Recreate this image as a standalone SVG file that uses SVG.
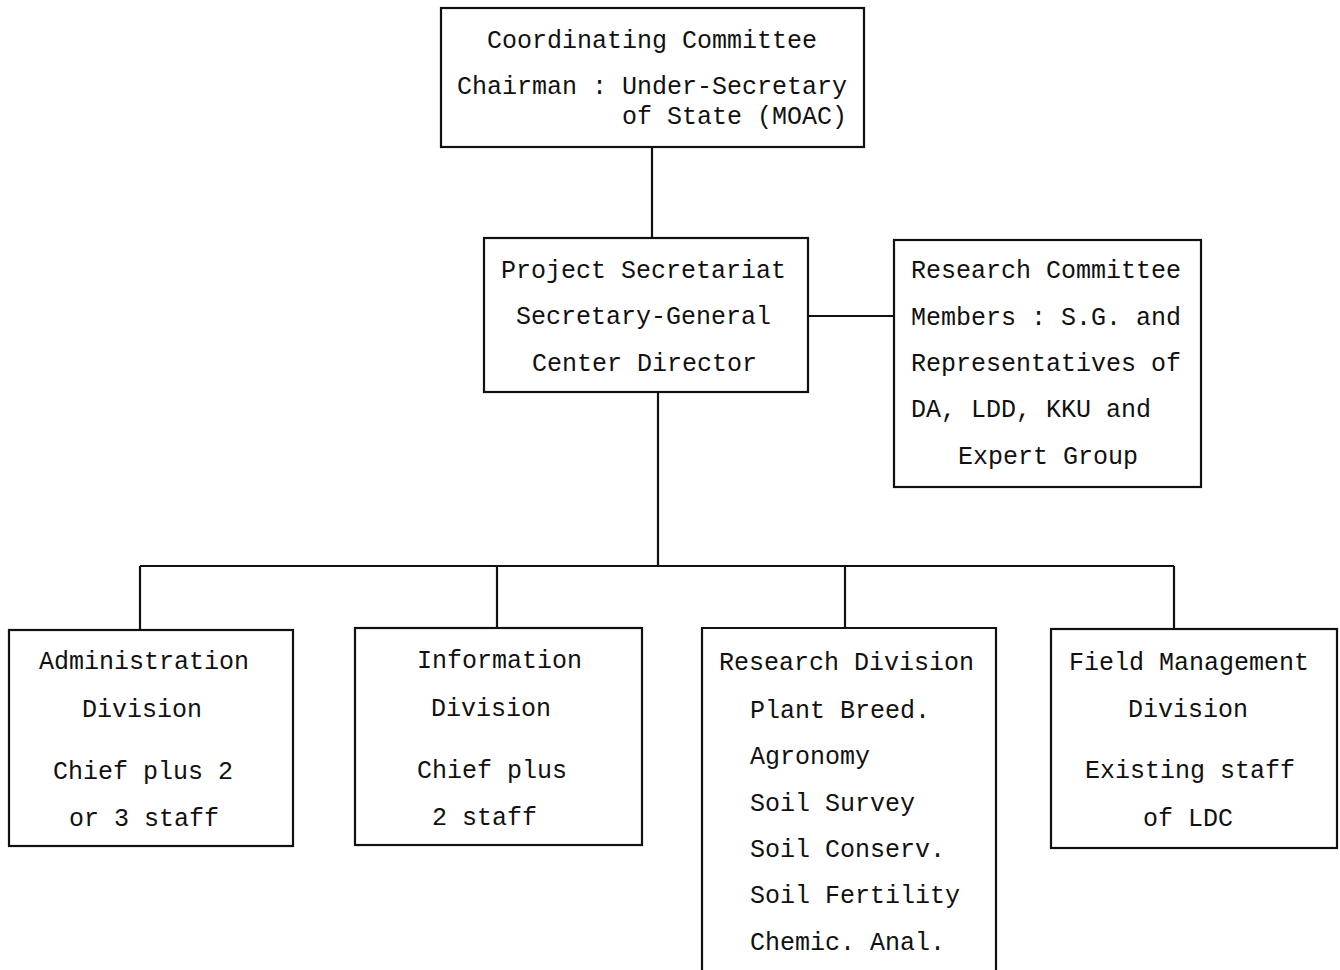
<svg xmlns="http://www.w3.org/2000/svg" width="1340" height="970" viewBox="0 0 1340 970">
  <style>
    .box { fill: none; stroke: #111; stroke-width: 2.2; }
    .link { fill: none; stroke: #111; stroke-width: 2.2; }
    text { font-family: "Liberation Mono", "DejaVu Sans Mono", monospace; font-size: 25px; fill: #111; }
  </style>
  <rect x="0" y="0" width="1340" height="970" fill="#fff"/>

  <g id="connectors">
    <line class="link" x1="652" y1="147" x2="652" y2="238"/>
    <line class="link" x1="808" y1="316" x2="894" y2="316"/>
    <line class="link" x1="658" y1="392" x2="658" y2="566"/>
    <line class="link" x1="140" y1="566" x2="1174" y2="566"/>
    <line class="link" x1="140" y1="566" x2="140" y2="630"/>
    <line class="link" x1="497" y1="566" x2="497" y2="628"/>
    <line class="link" x1="845" y1="566" x2="845" y2="628"/>
    <line class="link" x1="1174" y1="566" x2="1174" y2="629"/>
  </g>

  <g id="coordinating-committee">
    <rect class="box" x="441" y="8" width="423" height="139"/>
    <text x="487" y="48">Coordinating Committee</text>
    <text x="457" y="94">Chairman : Under-Secretary</text>
    <text x="622" y="124">of State (MOAC)</text>
  </g>

  <g id="project-secretariat">
    <rect class="box" x="484" y="238" width="324" height="154"/>
    <text x="501" y="278">Project Secretariat</text>
    <text x="516" y="324">Secretary-General</text>
    <text x="532" y="371">Center Director</text>
  </g>

  <g id="research-committee">
    <rect class="box" x="894" y="240" width="307" height="247"/>
    <text x="911" y="278">Research Committee</text>
    <text x="911" y="325">Members : S.G. and</text>
    <text x="911" y="371">Representatives of</text>
    <text x="911" y="417">DA, LDD, KKU and</text>
    <text x="958" y="464">Expert Group</text>
  </g>

  <g id="administration-division">
    <rect class="box" x="9" y="630" width="284" height="216"/>
    <text x="39" y="669">Administration</text>
    <text x="82" y="717">Division</text>
    <text x="53" y="779">Chief plus 2</text>
    <text x="69" y="826">or 3 staff</text>
  </g>

  <g id="information-division">
    <rect class="box" x="355" y="628" width="287" height="217"/>
    <text x="417" y="668">Information</text>
    <text x="431" y="716">Division</text>
    <text x="417" y="778">Chief plus</text>
    <text x="432" y="825">2 staff</text>
  </g>

  <g id="research-division">
    <path class="box" d="M702 975 V628 H996 V975"/>
    <text x="719" y="670">Research Division</text>
    <text x="750" y="718">Plant Breed.</text>
    <text x="750" y="764">Agronomy</text>
    <text x="750" y="811">Soil Survey</text>
    <text x="750" y="857">Soil Conserv.</text>
    <text x="750" y="903">Soil Fertility</text>
    <text x="750" y="950">Chemic. Anal.</text>
  </g>

  <g id="field-management-division">
    <rect class="box" x="1051" y="629" width="286" height="219"/>
    <text x="1069" y="670">Field Management</text>
    <text x="1128" y="717">Division</text>
    <text x="1085" y="778">Existing staff</text>
    <text x="1143" y="826">of LDC</text>
  </g>
</svg>
